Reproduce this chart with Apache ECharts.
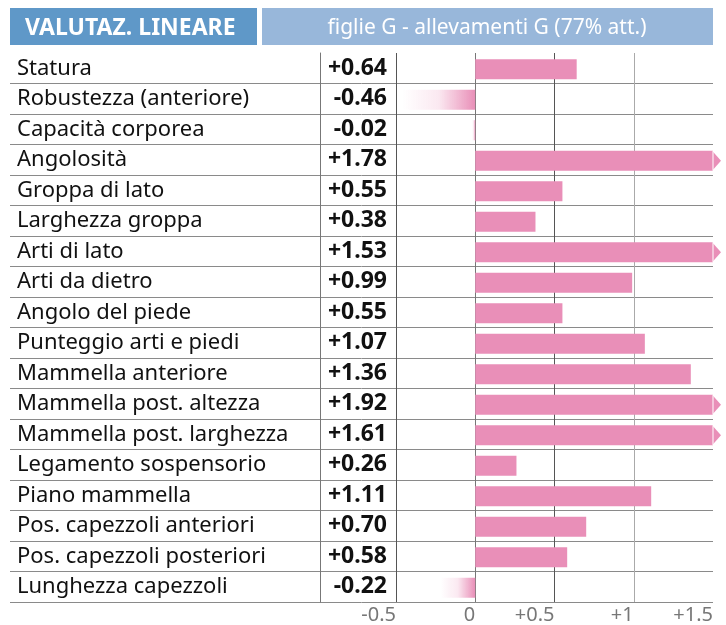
<!DOCTYPE html>
<html>
<head>
<meta charset="utf-8">
<script src="https://cdn.jsdelivr.net/npm/echarts@6/dist/echarts.min.js"></script>
<style>
  html, body { margin: 0; padding: 0; background: #fff; }
  #chart { width: 726px; height: 625px; }
</style>
</head>
<body>
<div id="chart"></div>
<script>
var title = 'VALUTAZ. LINEARE';
var subtitle = 'figlie G - allevamenti G (77% att.)';

var traits = [
    'Statura',
    'Robustezza (anteriore)',
    'Capacità corporea',
    'Angolosità',
    'Groppa di lato',
    'Larghezza groppa',
    'Arti di lato',
    'Arti da dietro',
    'Angolo del piede',
    'Punteggio arti e piedi',
    'Mammella anteriore',
    'Mammella post. altezza',
    'Mammella post. larghezza',
    'Legamento sospensorio',
    'Piano mammella',
    'Pos. capezzoli anteriori',
    'Pos. capezzoli posteriori',
    'Lunghezza capezzoli'
];
var scores = [0.64, -0.46, -0.02, 1.78, 0.55, 0.38, 1.53, 0.99, 0.55, 1.07,
              1.36, 1.92, 1.61, 0.26, 1.11, 0.70, 0.58, -0.22];

var xMin = -0.5, xMax = 1.5, xStep = 0.5;

var pink = '#e98fb8';
var font = 'Noto Sans';

function signed(v) {
    return (v > 0 ? '+' : '') + v.toFixed(2);
}

// horizontal rules: none on top, one under every row
var rowRules = traits.map(function () { return '#8a8a8a'; });
rowRules.unshift('rgba(0,0,0,0)');

function renderBar(params, api) {
    var v = api.value(0), idx = api.value(1);
    var shown = Math.min(v, xMax);
    var p0 = api.coord([0, idx]);
    var p1 = api.coord([shown, idx]);
    var h = api.size([0, 1])[1] * 0.66;
    var cy = p0[1] + 1;
    var top = cy - h / 2;
    var kids = [];

    if (v >= 0) {
        kids.push({
            type: 'rect',
            shape: { x: p0[0], y: top, width: p1[0] - p0[0], height: h },
            style: { fill: pink }
        });
    } else {
        kids.push({
            type: 'rect',
            shape: { x: p1[0], y: top, width: Math.max(p0[0] - p1[0], 1.5), height: h },
            style: {
                fill: new echarts.graphic.LinearGradient(0, 0, 1, 0, [
                    { offset: 0, color: 'rgba(233,143,184,0)' },
                    { offset: 0.5, color: 'rgba(233,143,184,0.2)' },
                    { offset: 1, color: 'rgba(233,143,184,1)' }
                ])
            }
        });
    }

    if (v > xMax) {
        kids.push({
            type: 'polygon',
            shape: { points: [[p1[0], top + 1], [p1[0] + 8, cy], [p1[0], top + h - 1]] },
            style: { fill: pink }
        });
        kids.push({
            type: 'line',
            shape: { x1: p1[0], y1: top, x2: p1[0], y2: top + h },
            style: { stroke: '#fff', lineWidth: 1 }
        });
    }
    return { type: 'group', children: kids };
}

var chart = echarts.init(document.getElementById('chart'));

var option = {
    animation: false,
    textStyle: { fontFamily: font },
    graphic: [
        { type: 'rect', shape: { x: 10, y: 8, width: 247, height: 37 }, style: { fill: '#5f98c8' } },
        { type: 'rect', shape: { x: 262, y: 8, width: 451, height: 37 }, style: { fill: '#98b7da' } },
        {
            type: 'text', x: 25, y: 28,
            style: { text: title, fill: '#fff', font: 'bold 23px "Noto Sans"', verticalAlign: 'middle' }
        },
        {
            type: 'text', x: 487, y: 28,
            style: { text: subtitle, fill: '#fff', font: '21px "Noto Sans"', align: 'center', verticalAlign: 'middle' }
        }
    ],
    grid: [
        { left: 396, right: 13, top: 53, bottom: 23 },  // bars
        { left: 10, right: 13, top: 53, bottom: 23 },   // table rows
        { left: 320, right: 13, top: 53, bottom: 23 }   // value column border
    ],
    xAxis: [
        {
            gridIndex: 0, type: 'value', min: xMin, max: xMax, interval: xStep,
            axisLine: { show: false }, axisTick: { show: false },
            axisLabel: {
                color: '#777', fontSize: 20, align: 'right', margin: 3,
                formatter: function (v) { return v > 0 ? '+' + v : String(v); }
            },
            splitLine: { show: true, lineStyle: { color: ['#555', '#777', '#555', '#aaa', 'rgba(0,0,0,0)'], width: 1 } }
        },
        { gridIndex: 1, type: 'value', show: false },
        { gridIndex: 2, type: 'value', show: false }
    ],
    yAxis: [
        {
            gridIndex: 0, type: 'category', data: traits, inverse: true,
            axisLine: { show: false }, axisTick: { show: false }, splitLine: { show: false },
            axisLabel: {
                margin: 9, align: 'right', color: '#111', fontSize: 23, fontWeight: 'bold',
                formatter: function (name, i) { return signed(scores[i]); }
            }
        },
        {
            gridIndex: 1, type: 'category', data: traits, inverse: true,
            axisLine: { show: false }, axisTick: { show: false },
            axisLabel: { inside: true, margin: 7, color: '#111', fontSize: 22 },
            splitLine: { show: true, lineStyle: { color: rowRules, width: 1 } }
        },
        {
            gridIndex: 2, type: 'category', data: traits, inverse: true,
            axisLine: { show: true, lineStyle: { color: '#777', width: 1 } },
            axisTick: { show: false }, axisLabel: { show: false }, splitLine: { show: false }
        }
    ],
    series: [{
        type: 'custom',
        xAxisIndex: 0, yAxisIndex: 0,
        renderItem: renderBar,
        encode: { x: 0, y: 1 },
        data: scores.map(function (v, i) { return [v, i]; }),
        z: 5
    }]
};

chart.setOption(option);
</script>
</body>
</html>
